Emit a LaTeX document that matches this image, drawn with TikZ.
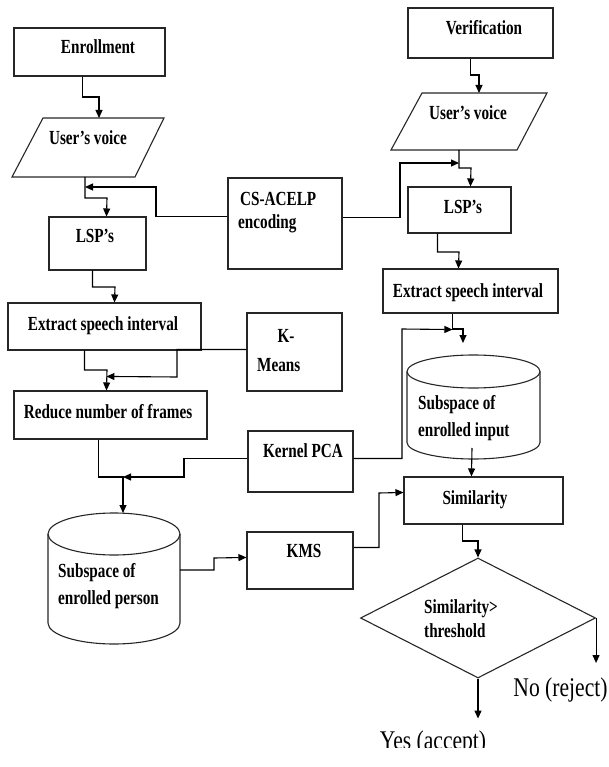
\documentclass[tikz,border=0pt]{standalone}
\usepackage{fontspec}
\setmainfont{Liberation Serif}
\newfontfamily\bcf[FakeStretch=0.76]{Liberation Serif}
\newfontfamily\rcf[FakeStretch=0.8]{Liberation Serif}
\usetikzlibrary{arrows.meta,shapes.geometric,calc}
\begin{document}
\begin{tikzpicture}[x=1pt,y=-1pt,
  box/.style={draw=black!85, line width=1.1pt, rectangle, inner sep=0pt},
  shp/.style={draw=black!85, line width=1.1pt},
  lbl/.style={font=\bcf\bfseries\fontsize{20}{24}\selectfont, inner sep=0pt, anchor=base},
  lbll/.style={lbl, anchor=base west},
  big/.style={font=\rcf\fontsize{27}{32}\selectfont, inner sep=0pt, anchor=base},
  conn/.style={draw=black, line width=1.1pt},
  arr/.style={conn, -{Triangle[length=8pt,width=7pt]}},
]
\useasboundingbox (0,0) rectangle (609,767);

% ---- boxes ----
\node[box, minimum width=151pt, minimum height=48pt] (enr) at (89.5,52) {};
\node[box, minimum width=97pt, minimum height=53pt] (lsp1) at (97.5,243.5) {};
\node[box, minimum width=193pt, minimum height=47pt] (ext1) at (104.5,326.5) {};
\node[box, minimum width=193pt, minimum height=48pt] (red) at (110.5,415) {};
\node[box, minimum width=114pt, minimum height=91pt] (cs) at (285,223.5) {};
\node[box, minimum width=95pt, minimum height=78pt] (kmeans) at (294.5,352) {};
\node[box, minimum width=105pt, minimum height=61pt] (kpca) at (300.5,461.5) {};
\node[box, minimum width=106pt, minimum height=57pt] (kms) at (300,560.5) {};
\node[box, minimum width=145pt, minimum height=50pt] (ver) at (480.5,33) {};
\node[box, minimum width=103pt, minimum height=46pt] (lsp2) at (459.5,210) {};
\node[box, minimum width=175pt, minimum height=44pt] (ext2) at (470.5,291) {};
\node[box, minimum width=159pt, minimum height=47pt] (sim) at (483.5,500.5) {};
\node[shp, diamond, inner sep=0pt, minimum width=235pt, minimum height=120pt] (dia) at (478,618) {};

% ---- parallelograms ----
\draw[shp] (43,118) coordinate (uv1tl) -- (164,118) -- (135,177) -- (12,177) coordinate (uv1bl) -- cycle;
\draw[shp] (422,93) coordinate (uv2tl) -- (547,93) -- (517,150) -- (391,150) coordinate (uv2bl) -- cycle;

% ---- cylinders ----
\coordinate (cyl1) at (114,578);
\draw[shp] (48,534) -- (48,623) arc[start angle=180,end angle=360,x radius=66pt,y radius=21pt] -- (180,534);
\draw[shp] (114,534) ellipse[x radius=66pt,y radius=21pt];
\coordinate (cyl2) at (473.5,415);
\draw[shp] (407,371.5) -- (407,442.5) arc[start angle=180,end angle=360,x radius=66.5pt,y radius=16.5pt] -- (540,371.5);
\draw[shp] (473.5,371.5) ellipse[x radius=66.5pt,y radius=16.5pt];

% ---- texts ----
\node[lbl] (t-enr) at (98,54) {Enrollment};
\node[lbl] (t-uv1) at (88,145) {User’s voice};
\node[lbl] (t-lsp1) at (95,242) {LSP’s};
\node[lbll] (t-cs1) at (240,206) {CS-ACELP};
\node[lbll] (t-cs2) at (238,228) {encoding};
\node[lbl] (t-ext1) at (103,330) {Extract speech interval};
\node[lbl] (t-k1) at (286,342) {K-};
\node[lbll] (t-k2) at (257,371) {Means};
\node[lbl] (t-red) at (108,418) {Reduce number of frames};
\node[lbl] (t-kpca) at (303,457) {Kernel PCA};
\node[lbll] (t-s2a) at (418,409) {Subspace of};
\node[lbll] (t-s2b) at (418,436) {enrolled input};
\node[lbll] (t-s1a) at (58,577) {Subspace of};
\node[lbll] (t-s1b) at (58,604) {enrolled person};
\node[lbl] (t-kms) at (304,557) {KMS};
\node[lbl] (t-ver) at (484,35) {Verification};
\node[lbl] (t-uv2) at (468,120) {User’s voice};
\node[lbl] (t-lsp2) at (463,213) {LSP’s};
\node[lbl] (t-ext2) at (468,297) {Extract speech interval};
\node[lbl] (t-sim) at (475,504) {Similarity};
\node[lbll] (t-d1) at (424,613) {Similarity>};
\node[lbll] (t-d2) at (424,637) {threshold};
\node[big] (t-no) at (560.5,696) {No (reject)};
\begin{scope}
  \clip (0,0) rectangle (609,747);
  \node[big] (t-yes) at (433,749) {Yes (accept)};
\end{scope}

% ---- connectors ----
\draw[arr] ($(enr.south west)+(69,0)$) |- (99,97) -- ($(uv1tl)+(56,0)$);
\draw[arr] ($(uv1bl)+(73,0)$) |- (107,198) -- ($(lsp1.north west)+(58,0)$);
\draw[arr] ($(cs.north west)+(0,39)$) -| (156,187) -- ($(uv1bl)+(73,10)$);
\draw[arr] ($(lsp1.south west)+(44,0)$) |- (115,287) -- ($(ext1.north west)+(107,0)$);
\draw[arr] ($(ext1.south west)+(77,0)$) |- (107,370) -- ($(red.north west)+(93,0)$);
\draw[arr] ($(kmeans.north west)+(0,37)$) -| (177,377) -- ($(red.north west)+(93,-14)$);
\draw[arr] ($(red.south west)+(85,0)$) |- (123,477) -- ($(cyl1)+(9,-65)$);
\draw[arr] ($(kpca.north west)+(0,28)$) -| (184,477) -- ($(cyl1)+(9,-101)$);
\draw[arr] ($(cyl1)+(66,-8)$) -| (214,558) -- ($(kms.north west)+(0,26)$);
\draw[arr] ($(kms.north east)+(0,16)$) -| (379,493) -- ($(sim.north west)+(0,16)$);
\draw[arr] ($(ver.south west)+(63,0)$) |- (479,75) -- ($(uv2tl)+(57,0)$);
\draw[arr] ($(uv2bl)+(68,0)$) |- (471,168) -- ($(lsp2.north west)+(63,0)$);
\draw[arr] ($(cs.north east)+(0,40)$) -| (400,163) -- ($(uv2bl)+(68,13)$);
\draw[arr] ($(lsp2.south west)+(30,0)$) |- (459,252) -- ($(ext2.north west)+(76,0)$);
\draw[arr] ($(ext2.south west)+(70,0)$) |- (463,329) -- ($(cyl2)+(-10.5,-72)$);
\draw[arr] ($(kpca.north east)+(0,28)$) -| (402,329) -- ($(ext2.south west)+(70,16)$);
\draw[arr] ($(cyl2)+(-1.5,33)$) -- ($(sim.north west)+(68,0)$);
\draw[arr] ($(sim.south west)+(59,0)$) |- (478,541) -- (dia.north);
\draw[arr] (dia.south) -- ++(0,40);
\draw[arr] (dia.east) -- ++(0,45);
\end{tikzpicture}
\end{document}
